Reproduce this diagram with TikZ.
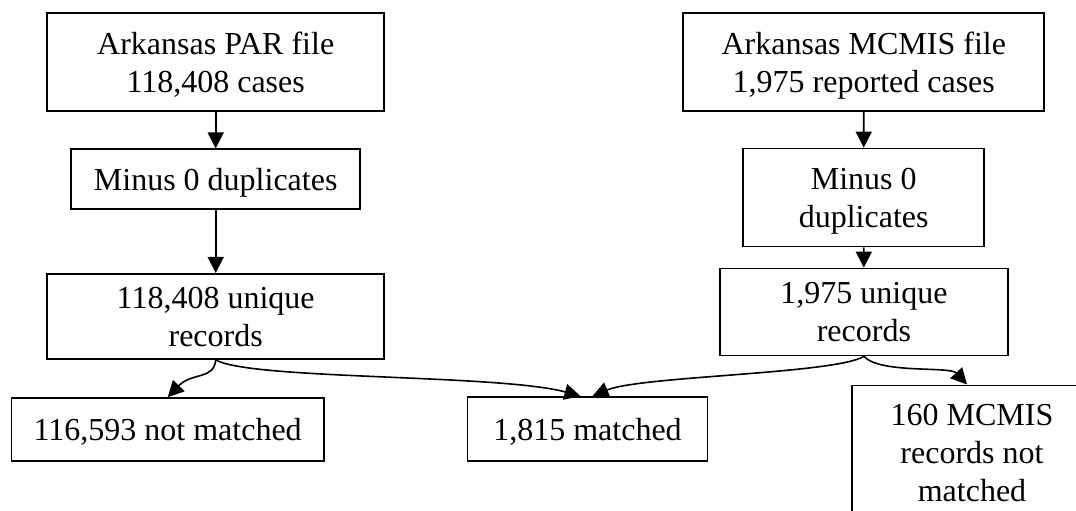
\documentclass[tikz,border=0pt]{standalone}
\usepackage{fontspec}
\setmainfont{Liberation Serif}
\usetikzlibrary{arrows.meta}
\tikzset{
  box/.style={draw, line width=0.85pt, inner sep=0pt, align=center, text depth=0pt, font=\fontsize{16}{19}\selectfont},
  conn/.style={line width=0.8pt, -{Triangle[length=8pt,width=8pt]}},
}
\begin{document}
\begin{tikzpicture}[x=0.5pt,y=-0.5pt]
\useasboundingbox (0,0) rectangle (1076,510);
\clip (0,0) rectangle (1076,510);
% left column
\node[box, minimum width=168.5pt, minimum height=49pt] (par) at (215.7,62.2) {Arkansas PAR file\\118,408 cases};
\node[box, minimum width=144.5pt, minimum height=30pt] (dupL) at (215.7,179.3) {Minus 0 duplicates};
\node[box, minimum width=168.5pt, minimum height=42.6pt] (uniqL) at (215.7,316.4) {118,408 unique\\records};
\node[box, minimum width=156.3pt, minimum height=31.5pt] (notm) at (167.7,429.5) {116,593 not matched};
\node[box, minimum width=120pt, minimum height=32pt] (match) at (587.5,429) {1,815 matched};
% right column
\node[box, minimum width=180.5pt, minimum height=49pt] (mcmis) at (863.8,62.2) {Arkansas MCMIS file\\1,975 reported cases};
\node[box, minimum width=120.4pt, minimum height=49pt] (dupR) at (863.7,197.5) {Minus 0\\duplicates};
\node[box, minimum width=144pt, minimum height=43.5pt] (uniqR) at (863.9,312) {1,975 unique\\records};
\node[box, anchor=north, minimum width=120pt, inner xsep=0pt, inner ysep=9.5pt] (mcnot) at (972,384.5) {160 MCMIS\\records not\\matched};
% connectors
\draw[conn] (par) -- (dupL);
\draw[conn] (dupL) -- (uniqL);
\draw[conn] (mcmis) -- (dupR);
\draw[conn] (dupR) -- (uniqR);
\draw[conn] (uniqL.south) .. controls (214,380) and (192,372) .. (notm.north);
\draw[conn] (uniqL.south) .. controls (250,380) and (500,374) .. ([xshift=-3.5pt]match.north);
\draw[conn] (uniqR.south) .. controls (835,374) and (640,376) .. ([xshift=2.5pt]match.north);
\draw[conn] (uniqR.south) .. controls (880,374) and (950,366) .. ([xshift=-2.5pt]mcnot.north);
\end{tikzpicture}
\end{document}
